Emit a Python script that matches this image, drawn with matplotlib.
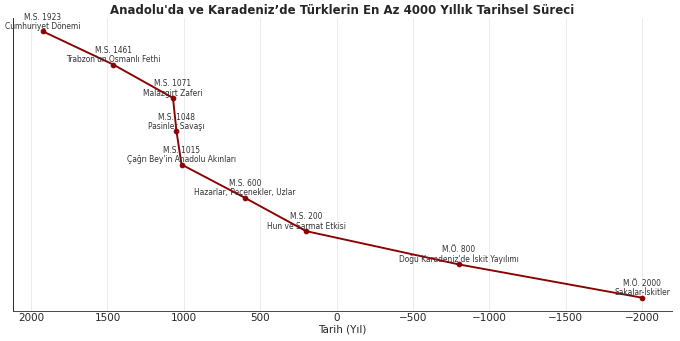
import matplotlib
matplotlib.use("Agg")
import matplotlib.pyplot as plt
import seaborn as sns

# Olaylar (yıl, etiket) - negatif yıllar M.Ö.
years = [1923, 1461, 1071, 1048, 1015, 600, 200, -800, -2000]
eras = ["M.S. 1923", "M.S. 1461", "M.S. 1071", "M.S. 1048", "M.S. 1015",
        "M.S. 600", "M.S. 200", "M.Ö. 800", "M.Ö. 2000"]
events = ["Cumhuriyet Dönemi", "Trabzon'un Osmanlı Fethi", "Malazgirt Zaferi",
          "Pasinler Savaşı", "Çağrı Bey'in Anadolu Akınları",
          "Hazarlar, Peçenekler, Uzlar", "Hun ve Sarmat Etkisi",
          "Doğu Karadeniz'de İskit Yayılımı", "Sakalar-İskitler"]
levels = [9, 8, 7, 6, 5, 4, 3, 2, 1]

sns.set_theme(style="whitegrid")
plt.rcParams['font.family'] = ['DejaVu Sans']

fig, ax = plt.subplots(figsize=(10, 5.015), dpi=68)
ax.plot(years, levels, marker='o', color='darkred', linewidth=2, markersize=5)

for x, y, era, ev in zip(years, levels, eras, events):
    ax.text(x, y + 0.01, f"{era}\n{ev}", ha='center', va='bottom',
            fontsize=8, color='#333333', linespacing=1.05)

ax.invert_xaxis()
ax.set_yticks([])
ax.set_xlabel("Tarih (Yıl)", fontsize=11, labelpad=2)
ax.set_title("Anadolu'da ve Karadeniz’de Türklerin En Az 4000 Yıllık Tarihsel Süreci",
             fontsize=12.5, fontweight='bold', pad=4)
ax.grid(axis='x', color='#e6e6e6', linewidth=0.8)
ax.grid(axis='y', visible=False)
ax.tick_params(axis='x', labelsize=11, length=0, pad=2)
for side in ['top', 'right']:
    ax.spines[side].set_visible(False)
ax.spines['left'].set_color('#222222')
ax.spines['bottom'].set_color('#444444')
ax.spines['left'].set_linewidth(1.0)
ax.spines['bottom'].set_linewidth(1.0)

fig.subplots_adjust(left=0.019, right=0.988, top=0.947, bottom=0.088)
fig.savefig("out.png", dpi=68)
